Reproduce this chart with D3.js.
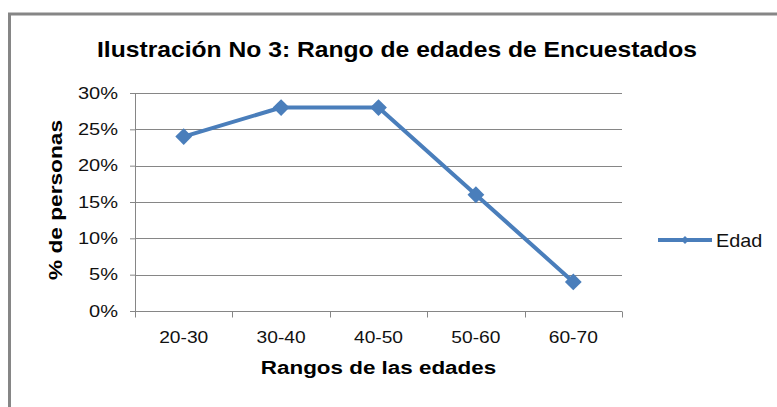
<!DOCTYPE html>
<html>
<head>
<meta charset="utf-8">
<script src="https://cdn.jsdelivr.net/npm/d3@7"></script>
<style>
  body { margin: 0; background: #fff; }
  svg { display: block; font-family: "Liberation Sans", Arial, sans-serif; }
</style>
</head>
<body>
<div id="chart"></div>
<script>
// data
const categories = ["20-30", "30-40", "40-50", "50-60", "60-70"];
const edad = [0.24, 0.28, 0.28, 0.16, 0.04];
const yTicks = [0, 0.05, 0.10, 0.15, 0.20, 0.25, 0.30];
const seriesName = "Edad";

const W = 777, H = 407;
const margin = {top: 93, right: 155, bottom: 96, left: 135};
const width = W - margin.left - margin.right;
const height = H - margin.top - margin.bottom;
const blue = "#4a7ebb";
const grey = "#868686";
const stretch = 1.25;  // the original text is drawn wider than Arial

const svg = d3.select("#chart").append("svg")
    .attr("width", W)
    .attr("height", H);

// outer chart border
svg.append("rect")
    .attr("x", 9.5).attr("y", 14)
    .attr("width", 800).attr("height", 420)
    .attr("fill", "none")
    .attr("stroke", grey)
    .attr("stroke-width", 3);

svg.append("text")
    .attr("x", 397).attr("y", 57)
    .attr("text-anchor", "middle")
    .attr("font-weight", "bold")
    .attr("font-size", 22)
    .attr("textLength", 600)
    .attr("lengthAdjust", "spacingAndGlyphs")
    .text("Ilustración  No 3: Rango de edades de Encuestados");

const g = svg.append("g")
    .attr("transform", "translate(" + margin.left + "," + margin.top + ")");

const xScale = d3.scaleBand().domain(categories).range([0, width]);
const yScale = d3.scaleLinear().domain([0, 0.30]).range([height, 0]);

// gridlines
g.append("g")
    .selectAll("line")
    .data(yTicks.filter(t => t > 0))
    .join("line")
    .attr("x1", 0).attr("x2", width)
    .attr("y1", d => Math.round(yScale(d)) + 0.5)
    .attr("y2", d => Math.round(yScale(d)) + 0.5)
    .attr("stroke", grey)
    .attr("stroke-width", 1.2);

// y axis
const yAxis = g.append("g")
    .call(d3.axisLeft(yScale).tickValues(yTicks).tickFormat(d3.format(".0%")).tickSize(5));
yAxis.selectAll("line, path").attr("stroke", grey);
yAxis.select(".domain").attr("d", "M0.5," + height + "V0");
yAxis.selectAll("text")
    .attr("font-size", 16)
    .attr("font-family", "Liberation Sans, Arial, sans-serif")
    .attr("fill", "#111")
    .attr("x", -17 / stretch)
    .attr("transform", "scale(" + stretch + ",1)");

// x axis with ticks at band boundaries
const xAxis = g.append("g")
    .attr("transform", "translate(0," + (Math.round(height) + 0.5) + ")");
xAxis.append("line")
    .attr("x1", 0).attr("x2", width)
    .attr("stroke", grey);
xAxis.selectAll(".tk")
    .data(categories.concat([null]))
    .join("line")
    .attr("class", "tk")
    .attr("x1", (d, i) => Math.round(i * xScale.step()) + 0.5)
    .attr("x2", (d, i) => Math.round(i * xScale.step()) + 0.5)
    .attr("y1", 0).attr("y2", 6)
    .attr("stroke", grey);
xAxis.selectAll(".lbl")
    .data(categories)
    .join("text")
    .attr("class", "lbl")
    .attr("transform", d => "translate(" + (xScale(d) + xScale.bandwidth() / 2) + ",31) scale(1.2,1)")
    .attr("text-anchor", "middle")
    .attr("font-size", 16)
    .attr("fill", "#111")
    .text(d => d);

// axis titles
svg.append("text")
    .attr("transform", "translate(" + (margin.left + width / 2) + ",374) scale(1.18,1)")
    .attr("text-anchor", "middle")
    .attr("font-weight", "bold")
    .attr("font-size", 19)
    .text("Rangos de las edades");

svg.append("text")
    .attr("transform", "translate(62,200) rotate(-90)")
    .attr("text-anchor", "middle")
    .attr("font-weight", "bold")
    .attr("font-size", 19)
    .attr("textLength", 160)
    .attr("lengthAdjust", "spacingAndGlyphs")
    .text("% de personas");

// series line
const line = d3.line()
    .x((d, i) => xScale(categories[i]) + xScale.bandwidth() / 2)
    .y(d => yScale(d));

g.append("path")
    .datum(edad)
    .attr("d", line)
    .attr("fill", "none")
    .attr("stroke", blue)
    .attr("stroke-width", 4)
    .attr("stroke-linejoin", "round");

const diamond = d3.symbol().type(d3.symbolDiamond2).size(180);
g.selectAll(".dot")
    .data(edad)
    .join("path")
    .attr("class", "dot")
    .attr("transform", (d, i) => "translate(" + (xScale(categories[i]) + xScale.bandwidth() / 2) + "," + yScale(d) + ")")
    .attr("d", diamond)
    .attr("fill", blue);

// legend
const leg = svg.append("g").attr("transform", "translate(658,240)");
leg.append("line")
    .attr("x1", 0).attr("x2", 54)
    .attr("stroke", blue)
    .attr("stroke-width", 4);
leg.append("path")
    .attr("transform", "translate(27,0)")
    .attr("d", d3.symbol().type(d3.symbolDiamond2).size(40))
    .attr("fill", blue);
leg.append("text")
    .attr("transform", "translate(58,7) scale(1.1,1)")
    .attr("font-size", 18)
    .attr("fill", "#111")
    .text(seriesName);
</script>
</body>
</html>
